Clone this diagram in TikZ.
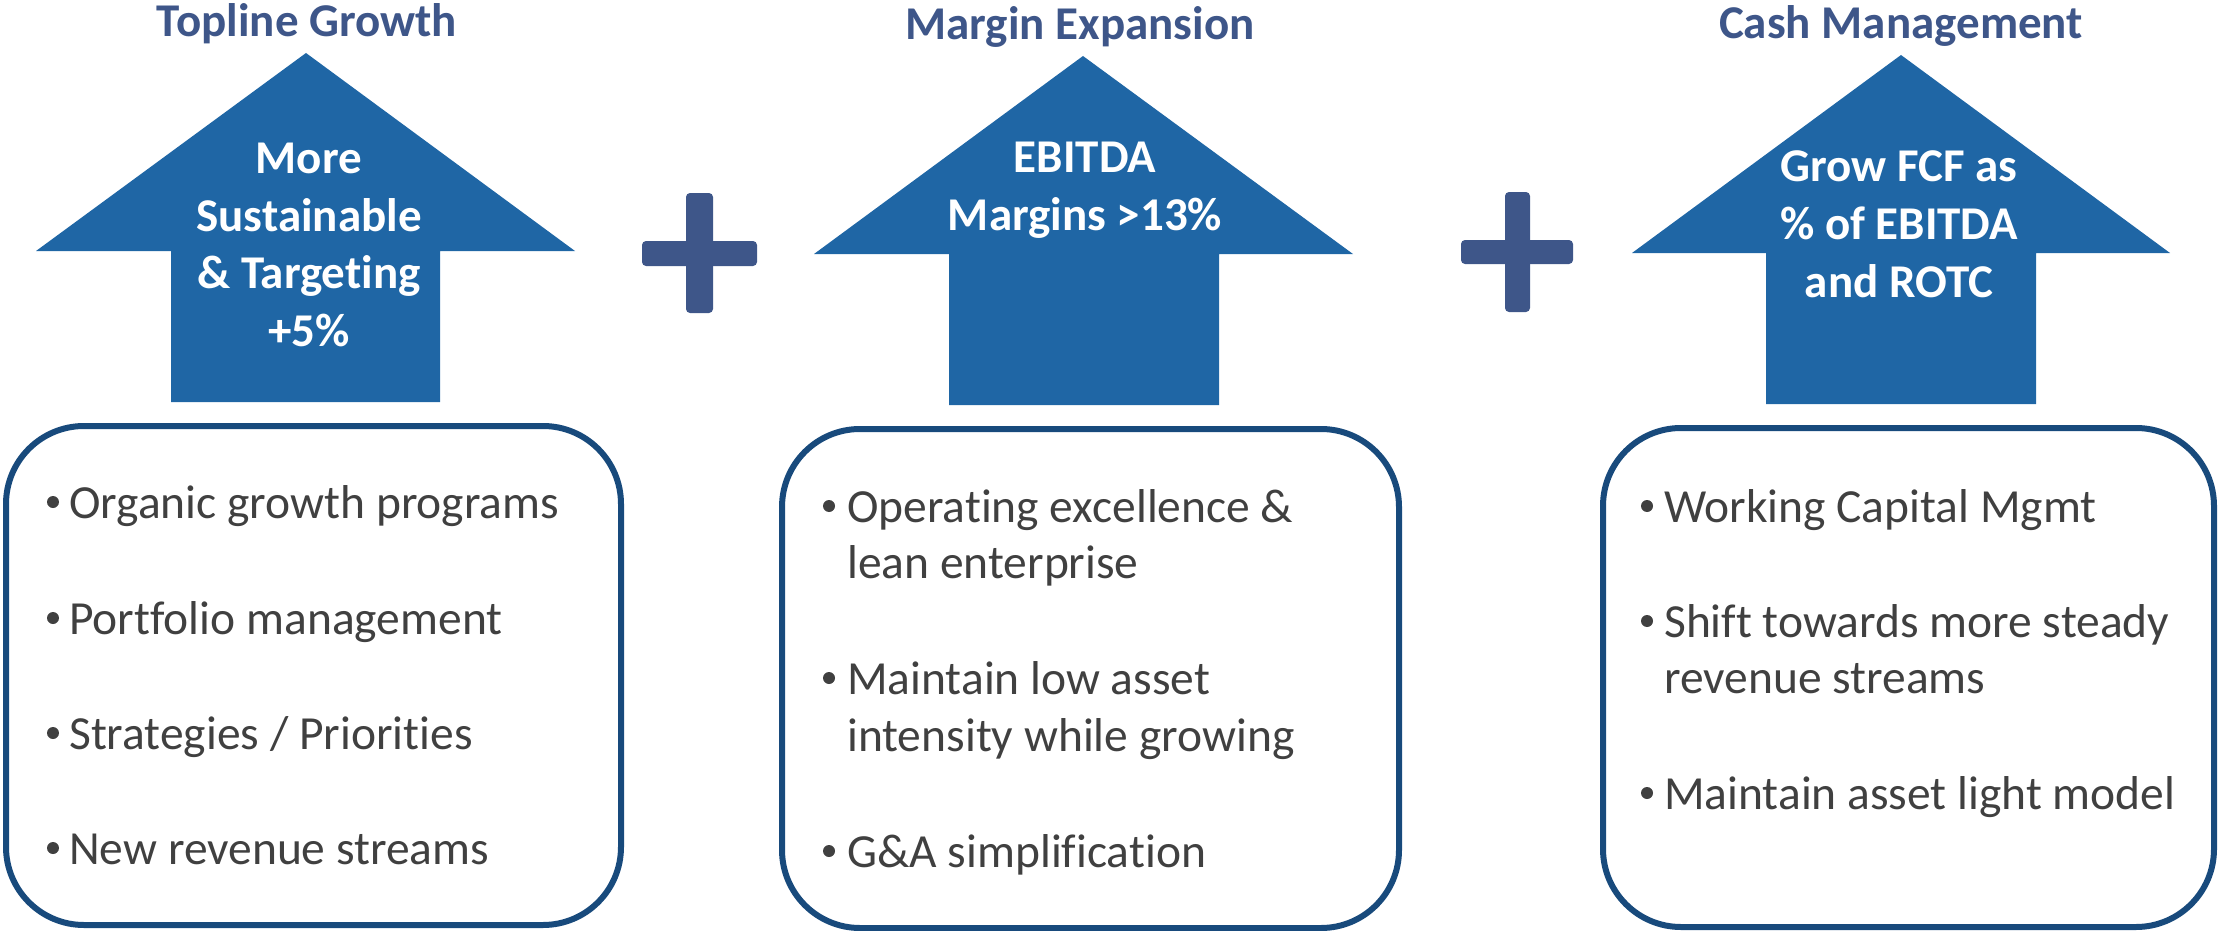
\documentclass[tikz,border=0pt]{standalone}
\usepackage{fontspec}
\setmainfont{Carlito}[Ligatures=NoCommon]
\definecolor{arrowblue}{RGB}{31,102,165}
\definecolor{titleblue}{RGB}{62,86,137}
\definecolor{boxblue}{RGB}{24,74,124}
\definecolor{txtgray}{RGB}{64,64,64}
\begin{document}
\begin{tikzpicture}[x=1pt,y=-1pt,
  ttl/.style={anchor=base,inner sep=0,font=\fontsize{47}{57}\selectfont\bfseries,text=titleblue},
  atxt/.style={anchor=base,inner sep=0,font=\fontsize{47}{57}\selectfont\bfseries,text=white},
  btxt/.style={anchor=base west,inner sep=0,font=\fontsize{47.5}{57}\selectfont,text=txtgray},
  bul/.style={circle,fill=txtgray,inner sep=0,minimum size=12},
  arrowshape/.style={fill=arrowblue},
  plusbar/.style={fill=titleblue,rounded corners=4},
  panel/.style={draw=boxblue,line width=6,rounded corners=78}]
\useasboundingbox (0,0) rectangle (2220,931);

% ---------- titles ----------
\node[ttl] (t1) at (307,37) {Topline Growth};
\node[ttl] (t2) at (1080,40) {Margin Expansion};
\node[ttl] (t3) at (1901,39) {Cash Management};

% ---------- arrows ----------
\fill[arrowshape] (306,53) -- (575,251) -- (440,251) -- (440,402) -- (171,402) -- (171,251) -- (36,251) -- cycle;
\fill[arrowshape] (1083,56) -- (1353,254) -- (1219,254) -- (1219,405) -- (949,405) -- (949,254) -- (814,254) -- cycle;
\fill[arrowshape] (1901,55) -- (2170,253) -- (2036,253) -- (2036,404) -- (1766,404) -- (1766,253) -- (1632,253) -- cycle;

\node[atxt] (a1l1) at (309,174) {More};
\node[atxt] (a1l2) at (309,231) {Sustainable};
\node[atxt] (a1l3) at (309,288) {\& Targeting};
\node[atxt] (a1l4) at (309,346) {+5\%};

\node[atxt] (a2l1) at (1085,172) {EBITDA};
\node[atxt] (a2l2) at (1085,230) {Margins >13\%};

\node[atxt] (a3l1) at (1899,182) {Grow FCF as};
\node[atxt] (a3l2) at (1899,239) {\% of EBITDA};
\node[atxt] (a3l3) at (1899,297) {and ROTC};

% ---------- plus signs ----------
\fill[plusbar] (642,241) rectangle (757,266);
\fill[plusbar] (686,193) rectangle (713,313);
\fill[plusbar] (1461,240) rectangle (1573,264);
\fill[plusbar] (1505,192) rectangle (1530,312);

% ---------- panels ----------
\draw[panel] (6,426) rectangle (621,925);
\draw[panel] (782,429) rectangle (1399,928);
\draw[panel] (1603,428) rectangle (2214,927);

% panel 1
\node[bul] (b11) at (53,502) {};
\node[btxt] (p11) at (69,518) {Organic growth programs};
\node[bul] (b12) at (53,618) {};
\node[btxt] (p12) at (69,634) {Portfolio management};
\node[bul] (b13) at (53,733) {};
\node[btxt] (p13) at (69,749) {Strategies / Priorities};
\node[bul] (b14) at (53,848) {};
\node[btxt] (p14) at (69,864) {New revenue streams};

% panel 2
\node[bul] (b21) at (829,506) {};
\node[btxt] (p21a) at (847,522) {Operating excellence \&};
\node[btxt] (p21b) at (847,578) {lean enterprise};
\node[bul] (b22) at (829,678) {};
\node[btxt] (p22a) at (847,694) {Maintain low asset};
\node[btxt] (p22b) at (847,751) {intensity while growing};
\node[bul] (b23) at (829,851) {};
\node[btxt] (p23) at (847,867) {G\&A simplification};

% panel 3
\node[bul] (b31) at (1647,506) {};
\node[btxt] (p31) at (1664,522) {Working Capital Mgmt};
\node[bul] (b32) at (1647,621) {};
\node[btxt] (p32a) at (1664,637) {Shift towards more steady};
\node[btxt] (p32b) at (1664,693) {revenue streams};
\node[bul] (b33) at (1647,793) {};
\node[btxt] (p33) at (1664,809) {Maintain asset light model};
\end{tikzpicture}
\end{document}
